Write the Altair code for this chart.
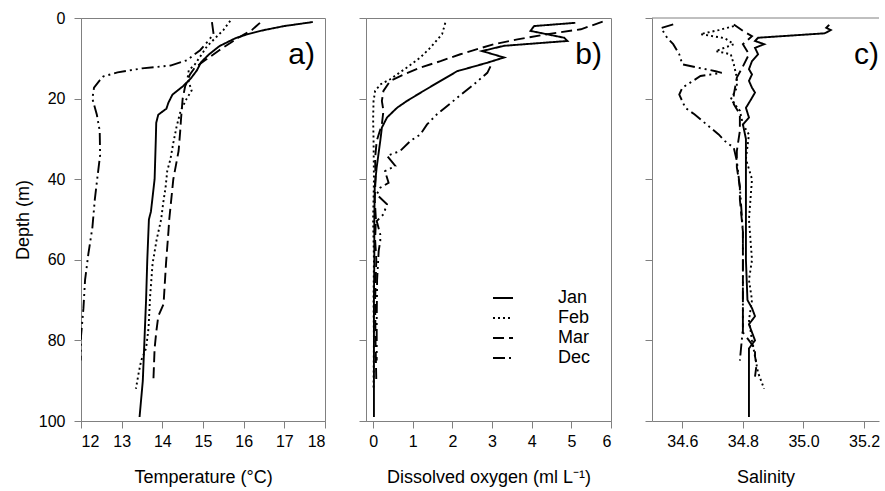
import altair as alt
import pandas as pd

MONTHS = ["Jan", "Feb", "Mar", "Dec"]
DASHES = [[1, 0], [2, 3], [11, 5], [12, 4, 2, 4, 2, 4]]
DEPTH_TICKS = [0, 20, 40, 60, 80, 100]

# ---------------- a) Temperature (°C) ----------------
JAN_T_D = [1, 2, 3, 4, 5, 7, 9, 11, 13, 15, 17, 19, 21, 22.5, 24, 26, 30, 40, 48, 50, 60, 70, 80, 90, 99]
JAN_T = [17.7, 17.0, 16.5, 16.1, 15.8, 15.4, 15.15, 14.95, 14.85, 14.7, 14.5, 14.25, 14.15, 14.1, 13.9,
         13.85, 13.84, 13.81, 13.72, 13.67, 13.63, 13.6, 13.56, 13.52, 13.44]
FEB_T_D = [0.7, 3, 5, 7, 9, 11.5, 13, 15, 18, 20, 23, 27, 31, 35, 38, 42, 46, 50, 55, 61, 69, 77, 82, 85, 88, 92]
FEB_T = [15.67, 15.5, 15.3, 15.1, 14.97, 14.8, 14.65, 14.62, 14.72, 14.6, 14.45, 14.35, 14.27, 14.2, 14.12,
         14.08, 14.02, 13.97, 13.86, 13.76, 13.70, 13.66, 13.60, 13.48, 13.42, 13.35]
MAR_T_D = [1.2, 3, 5, 6, 8, 10.5, 12.3, 14, 17, 20, 25, 28, 33, 40, 50, 53, 61, 71, 74, 78, 82, 90]
MAR_T = [16.4, 16.2, 15.85, 15.7, 15.4, 15.05, 14.8, 14.68, 14.56, 14.5, 14.46, 14.44, 14.4, 14.27, 14.17,
         14.15, 14.09, 14.03, 13.9, 13.85, 13.81, 13.78]
DEC_T_D = [1, 4, 6, 8, 10.5, 11.8, 12.5, 13.5, 14.5, 15.6, 17.3, 20, 24, 28, 34, 39, 45, 52, 58.6, 65, 72, 79, 85]
DEC_T = [15.22, 15.26, 15.1, 14.93, 14.6, 14.2, 13.5, 12.9, 12.55, 12.45, 12.32, 12.28, 12.39, 12.46, 12.47,
         12.41, 12.34, 12.28, 12.18, 12.1, 12.06, 12.0, 11.99]

# ---------------- b) Dissolved oxygen (ml L-1) ----------------
JAN_O_D = [1.2, 2, 3.2, 4.9, 5.7, 6.9, 8.2, 9.8, 11.1, 13.2, 15.6, 18.1, 20.6, 22.3, 24.7, 27.2, 30.5, 37, 42,
           50, 60, 70, 80, 90, 99]
JAN_O = [5.1, 4.06, 3.97, 4.82, 4.9, 3.3, 2.75, 3.3, 2.88, 2.12, 1.7, 1.27, 0.85, 0.6, 0.35, 0.22, 0.18, 0.09,
         0.04, 0.03, 0.03, 0.02, 0.02, 0.02, 0.02]
FEB_O_D = [1.2, 4, 7.4, 9.8, 12.3, 15.2, 16.5, 18.1, 20.6, 25, 30, 40, 50, 60, 70, 80, 92]
FEB_O = [1.82, 1.74, 1.44, 1.19, 0.85, 0.43, 0.18, 0.05, 0.01, 0.0, 0.01, 0.02, 0.0, 0.02, 0.01, 0.02, 0.01]
MAR_O_D = [0.9, 2.8, 4, 5.3, 6.5, 8.2, 9, 10.7, 12.3, 14, 15.6, 18.1, 20.6, 23, 26.4, 30.5, 34.7, 40, 45, 50,
           55, 60, 70, 80, 90]
MAR_O = [5.79, 5.24, 4.4, 3.64, 3.05, 2.46, 2.2, 1.7, 1.19, 0.77, 0.43, 0.26, 0.22, 0.26, 0.22, 0.09, 0.05,
         0.06, 0.04, 0.07, 0.05, 0.08, 0.05, 0.06, 0.08]
DEC_O_D = [12, 13.6, 16.5, 19.8, 23.9, 26.4, 28.9, 30.5, 33, 34.2, 36.7, 38, 40.9, 42.1, 43.8, 46.2, 48.7,
           50.4, 53.7, 55.3, 57.8, 65, 75, 85]
DEC_O = [2.96, 2.88, 2.54, 2.12, 1.61, 1.36, 1.19, 0.94, 0.68, 0.35, 0.56, 0.3, 0.39, 0.18, 0.09, 0.35, 0.26,
         0.09, 0.18, 0.18, 0.14, 0.1, 0.09, 0.09]

# ---------------- c) Salinity ----------------
JAN_S_D = [1.7, 2.4, 3.0, 3.8, 4.9, 5.7, 6.5, 7.4, 9, 10.7, 12.7, 14, 15.6, 17.3, 18.5, 19.8, 22.3, 24.7, 26.4,
           30, 40, 50, 60, 70, 72, 74, 76, 80, 82, 90, 99]
JAN_S = [35.085, 35.075, 35.09, 35.07, 34.85, 34.84, 34.87, 34.84, 34.85, 34.83, 34.82, 34.83, 34.82, 34.83,
         34.84, 34.83, 34.81, 34.82, 34.80, 34.81, 34.81, 34.81, 34.81, 34.815, 34.83, 34.84, 34.82, 34.84,
         34.82, 34.82, 34.82]
FEB_S_D = [2, 3, 4, 5, 6.5, 8.2, 9, 11.5, 14.8, 17.3, 20.2, 23, 26.4, 28.9, 35, 40, 50, 60, 65, 70, 75, 80,
           84, 88, 92]
FEB_S = [34.77, 34.72, 34.66, 34.74, 34.77, 34.71, 34.76, 34.77, 34.78, 34.78, 34.76, 34.79, 34.80, 34.82,
         34.81, 34.83, 34.82, 34.83, 34.82, 34.83, 34.82, 34.83, 34.84, 34.85, 34.87]
MAR_S_D = [1.6, 3.2, 4.5, 6.5, 9, 12, 14.8, 19, 21.4, 23.9, 28, 33, 37, 42, 45, 53, 61, 70, 78, 82, 84, 86, 89]
MAR_S = [34.77, 34.80, 34.83, 34.80, 34.82, 34.80, 34.78, 34.77, 34.77, 34.79, 34.79, 34.78, 34.78, 34.79,
         34.79, 34.80, 34.80, 34.80, 34.80, 34.84, 34.84, 34.845, 34.84]
DEC_S_D = [1.6, 2.5, 4.9, 6.5, 9, 11.5, 12.3, 13.2, 13.6, 14.4, 17.3, 19, 22.3, 23.9, 26.4, 28.9, 30.5, 32.2,
           35.5, 42, 53, 60, 69, 77, 85]
DEC_S = [34.57, 34.53, 34.55, 34.57, 34.59, 34.60, 34.65, 34.71, 34.73, 34.66, 34.60, 34.59, 34.61, 34.64,
         34.68, 34.72, 34.74, 34.77, 34.78, 34.79, 34.80, 34.80, 34.80, 34.80, 34.79]


def table(series):
    rows = []
    for month, depths, values in series:
        for i, (d, v) in enumerate(zip(depths, values)):
            rows.append({"month": month, "depth": d, "value": v, "seq": i})
    return pd.DataFrame(rows)


temp_df = table([("Jan", JAN_T_D, JAN_T), ("Feb", FEB_T_D, FEB_T), ("Mar", MAR_T_D, MAR_T), ("Dec", DEC_T_D, DEC_T)])
oxy_df = table([("Jan", JAN_O_D, JAN_O), ("Feb", FEB_O_D, FEB_O), ("Mar", MAR_O_D, MAR_O), ("Dec", DEC_O_D, DEC_O)])
sal_df = table([("Jan", JAN_S_D, JAN_S), ("Feb", FEB_S_D, FEB_S), ("Mar", MAR_S_D, MAR_S), ("Dec", DEC_S_D, DEC_S)])

FONT = "Liberation Sans"
GREY = "#808080"
H = 403
WC = 227


def panel(df, xdomain, xticks, xtitle, first, legend, label, label_x, label_fmt):
    yaxis = alt.Axis(values=DEPTH_TICKS, labels=first, title="Depth (m)" if first else None,
                     labelPadding=9, titlePadding=6)
    lines = alt.Chart(df).mark_line(color="black", strokeWidth=1.9, clip=True).encode(
        x=alt.X("value:Q", scale=alt.Scale(domain=xdomain, nice=False, zero=False),
                axis=alt.Axis(values=xticks, title=xtitle, format=label_fmt, labelPadding=5, titlePadding=19)),
        y=alt.Y("depth:Q", scale=alt.Scale(domain=[0, 100], reverse=True, nice=False), axis=yaxis),
        strokeDash=alt.StrokeDash("month:N", scale=alt.Scale(domain=MONTHS, range=DASHES), legend=legend),
        order="seq:Q",
    )
    txt = alt.Chart(pd.DataFrame({"lab": [label]})).mark_text(
        align="right", baseline="alphabetic", fontSize=30, font=FONT, color="black"
    ).encode(text="lab:N", x=alt.value(label_x), y=alt.value(46))
    return lines, txt


la, ta = panel(temp_df, [12, 18], [12, 13, 14, 15, 16, 17, 18], "Temperature (°C)", True, None, "a)", 234, "d")
pa = alt.layer(la, ta).properties(width=244, height=H)

legend_b = alt.Legend(orient="none", legendX=126, legendY=269, title=None, symbolType="stroke",
                      symbolSize=400, symbolStrokeWidth=1.9, symbolStrokeColor="black",
                      labelFontSize=18, labelFont=FONT, labelColor="black", labelOffset=44,
                      rowPadding=0, padding=0)
lb, tb = panel(oxy_df, [-0.18, 6], [0, 1, 2, 3, 4, 5, 6], "Dissolved oxygen (ml L⁻¹)", False, legend_b,
               "b)", 236, "d")
pb = alt.layer(lb, tb).properties(width=245, height=H)

lc, tc = panel(sal_df, [34.5, 34.5 + WC / 303.0], [34.6, 34.8, 35.0, 35.2], "Salinity", False, None, "c)", WC,
               ".1f")
top_c = alt.Chart(pd.DataFrame({"k": [0]})).mark_rule(color=GREY, strokeWidth=1).encode(
    x=alt.value(0), x2=alt.value(WC), y=alt.value(0))
pc = alt.layer(lc, tc, top_c).properties(width=WC, height=H, view=alt.ViewBackground(stroke=None))

chart = alt.hconcat(pa, pb, pc, spacing=41, bounds="flush").resolve_scale(
    strokeDash="independent", x="independent"
).properties(
    padding={"left": 13, "top": 9, "right": 0, "bottom": 0}
).configure_view(
    stroke=GREY, strokeWidth=1
).configure_axis(
    grid=False, domainColor=GREY, tickColor=GREY, tickSize=7, domainWidth=1, tickWidth=1,
    labelFont=FONT, labelFontSize=16, labelColor="black",
    titleFont=FONT, titleFontSize=18, titleFontWeight="normal", titleColor="black"
)

chart.save("out.html", embed_options={"renderer": "svg", "actions": False})
